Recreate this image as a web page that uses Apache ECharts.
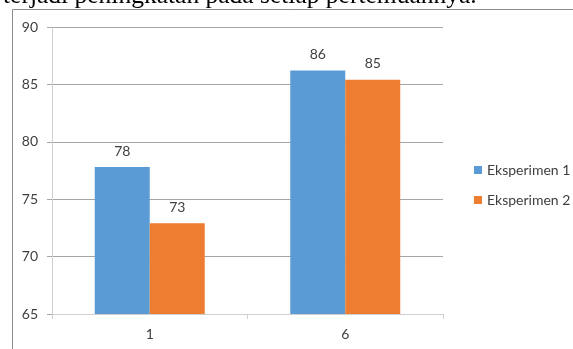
<!DOCTYPE html>
<html>
  <head>
    <meta charset="utf-8" />
    <title>Eksperimen</title>
  </head>
  <body style="margin: 0; background: #fff">
    <div id="container" style="width: 573px; height: 349px"></div>

    <script
      type="text/javascript"
      src="https://fastly.jsdelivr.net/npm/echarts@6/dist/echarts.min.js"
    ></script>

    <script type="text/javascript">
      var categories = ["1", "6"];
      var seriesNames = ["Eksperimen 1", "Eksperimen 2"];
      var eksperimen1 = [77.8, 86.2];
      var eksperimen2 = [72.9, 85.4];
      var yTicks = [65, 70, 75, 80, 85, 90];

      var dom = document.getElementById("container");
      var myChart = echarts.init(dom, null, { renderer: "canvas" });

      var font = "Lato, 'Open Sans', sans-serif";

      var option = {
        animation: false,
        graphic: [
          {
            type: "rect",
            shape: { x: 12.5, y: 9.5, width: 700, height: 500 },
            style: { fill: "none", stroke: "#8c8c8c", lineWidth: 1 },
            silent: true,
          },
          {
            type: "text",
            left: 3,
            top: -17,
            style: {
              text: "terjadi peningkatan pada setiap pertemuannya.",
              fontFamily: "'Liberation Serif', 'DejaVu Serif', serif",
              fontSize: 25.5,
              fill: "#000",
            },
            silent: true,
          },
        ],
        legend: {
          orient: "vertical",
          left: 469,
          top: 158,
          itemWidth: 8,
          itemHeight: 8,
          itemGap: 16,
          icon: "rect",
          data: seriesNames,
          textStyle: { fontFamily: font, fontSize: 14, color: "#404040" },
        },
        grid: { left: 52, right: 130, top: 27, bottom: 35 },
        xAxis: {
          type: "category",
          data: categories,
          axisLine: { lineStyle: { color: "#cfcfcf" } },
          axisTick: { show: true, length: 5, lineStyle: { color: "#cfcfcf" } },
          axisLabel: { fontFamily: font, fontSize: 14, color: "#404040", margin: 13 },
        },
        yAxis: {
          type: "value",
          min: yTicks[0],
          max: yTicks[yTicks.length - 1],
          interval: 5,
          axisLine: { show: true, lineStyle: { color: "#cfcfcf" } },
          axisTick: { show: true, length: 5, lineStyle: { color: "#a6a6a6" } },
          axisLabel: { fontFamily: font, fontSize: 14, color: "#404040", margin: 14 },
          splitLine: { lineStyle: { color: "#a6a6a6" } },
        },
        series: [
          {
            name: seriesNames[0],
            type: "bar",
            data: eksperimen1,
            barWidth: 55,
            barGap: "0%",
            itemStyle: { color: "#5b9bd5" },
            label: {
              show: true,
              position: "top",
              distance: 9,
              fontFamily: font,
              fontSize: 14,
              color: "#404040",
              formatter: function (p) {
                return Math.round(p.value);
              },
            },
          },
          {
            name: seriesNames[1],
            type: "bar",
            data: eksperimen2,
            barWidth: 55,
            itemStyle: { color: "#ed7d31" },
            label: {
              show: true,
              position: "top",
              distance: 9,
              fontFamily: font,
              fontSize: 14,
              color: "#404040",
              formatter: function (p) {
                return Math.round(p.value);
              },
            },
          },
        ],
      };

      myChart.setOption(option);
      window.addEventListener("resize", myChart.resize);
    </script>
  </body>
</html>
